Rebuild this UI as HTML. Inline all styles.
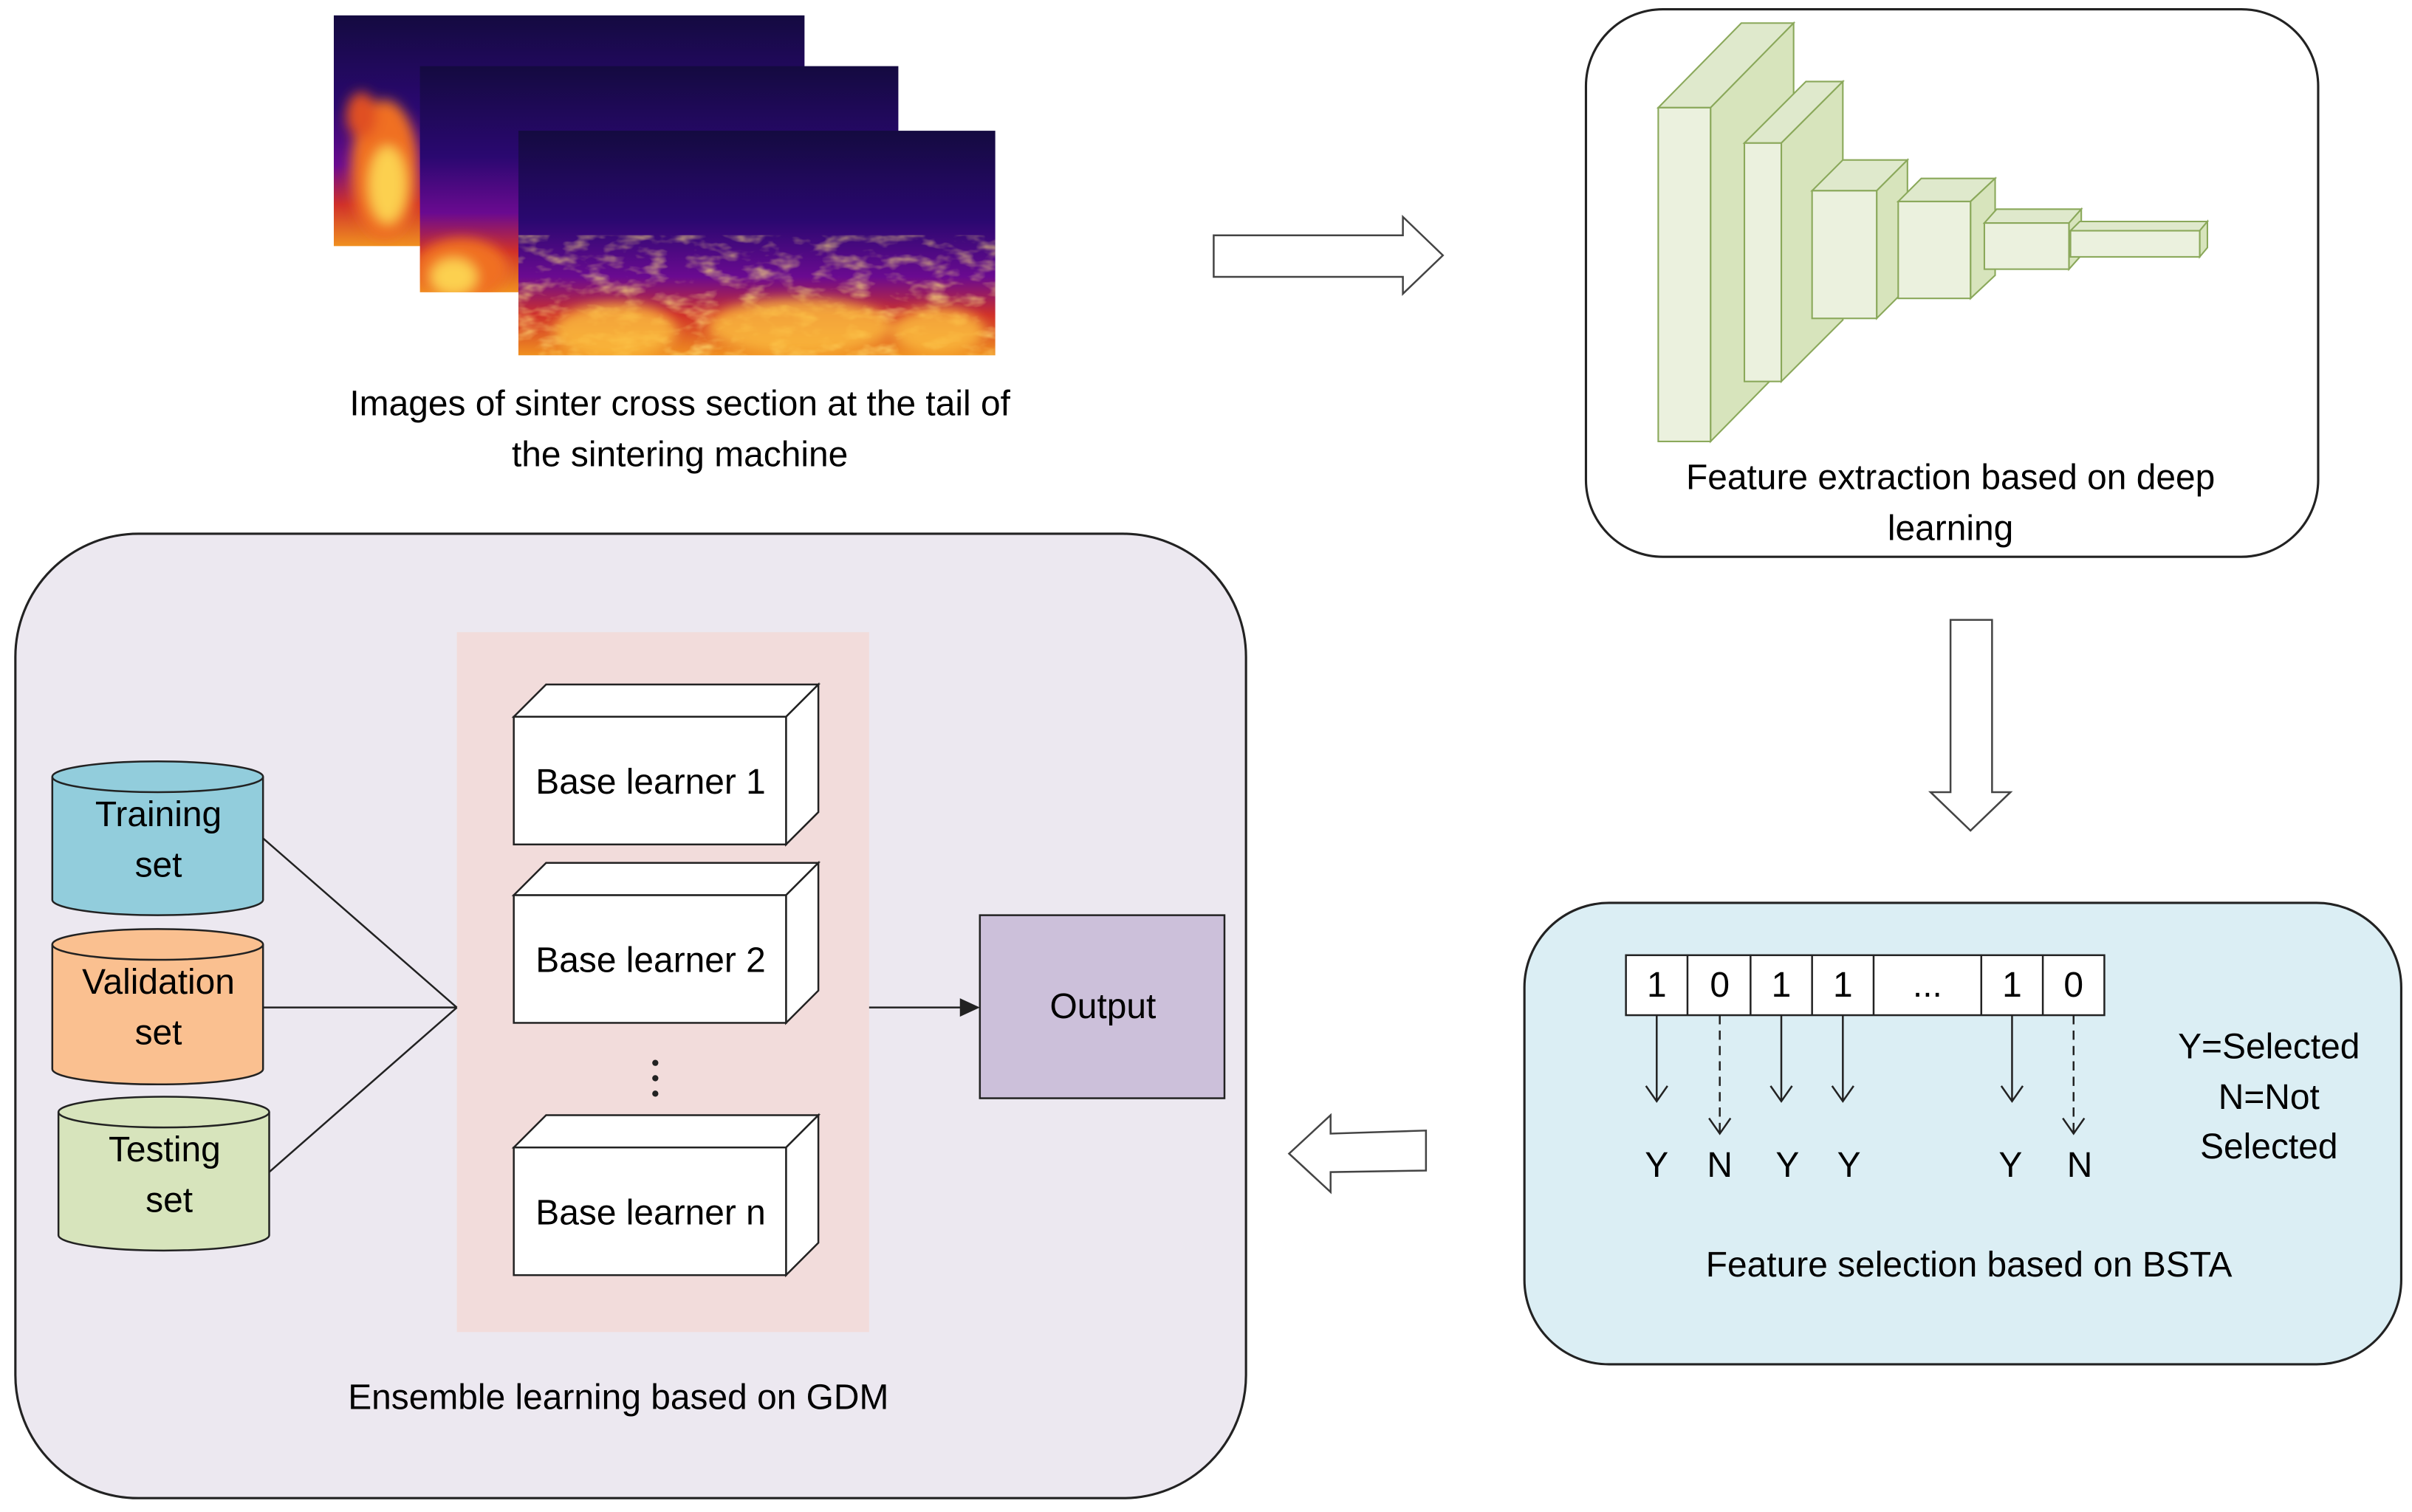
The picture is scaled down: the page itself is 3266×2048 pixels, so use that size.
<!DOCTYPE html>
<html><head><meta charset="utf-8"><style>html,body{margin:0;padding:0;background:#fff}svg{display:block}</style></head>
<body>
<svg width="3266" height="2048" viewBox="0 0 1568 983" preserveAspectRatio="none" xmlns="http://www.w3.org/2000/svg" font-family="Liberation Sans, sans-serif" font-size="22" fill="#000">
<defs>
<linearGradient id="th" x1="0" y1="0" x2="0" y2="1">
<stop offset="0" stop-color="#140a40"/><stop offset="0.4" stop-color="#2a0870"/><stop offset="0.65" stop-color="#6a0a90"/><stop offset="0.82" stop-color="#d0302a"/><stop offset="1" stop-color="#f09020"/></linearGradient>
<filter id="bl" x="-20%" y="-20%" width="140%" height="140%"><feGaussianBlur stdDeviation="4"/></filter>
<filter id="ns"><feTurbulence type="fractalNoise" baseFrequency="0.06 0.12" numOctaves="3" seed="4"/><feColorMatrix values="0 0 0 0 1  0 0 0 0 0.8  0 0 0 0 0.2  0 0 0 1.6 -0.75"/></filter>
<clipPath id="c1"><rect x="217" y="10" width="306" height="150"/></clipPath>
<clipPath id="c2"><rect x="273" y="43" width="311" height="147"/></clipPath>
<clipPath id="c3"><rect x="337" y="85" width="310" height="146"/></clipPath>
</defs>
<rect width="1568" height="983" fill="#fff"/>
<!-- thermal images -->
<rect x="217" y="10" width="306" height="150" fill="url(#th)"/>
<g clip-path="url(#c1)" filter="url(#bl)"><ellipse cx="250" cy="110" rx="22" ry="45" fill="#f07020"/><ellipse cx="252" cy="120" rx="12" ry="25" fill="#fcd050"/><ellipse cx="235" cy="75" rx="10" ry="15" fill="#e05020"/></g>
<rect x="273" y="43" width="311" height="147" fill="url(#th)"/>
<g clip-path="url(#c2)" filter="url(#bl)"><ellipse cx="300" cy="175" rx="30" ry="20" fill="#f07020"/><ellipse cx="295" cy="180" rx="15" ry="12" fill="#fcd050"/></g>
<rect x="337" y="85" width="310" height="146" fill="url(#th)"/>
<g clip-path="url(#c3)"><rect x="337" y="160" width="310" height="71" filter="url(#ns)"/>
<g filter="url(#bl)"><ellipse cx="400" cy="215" rx="40" ry="18" fill="#fcc040" opacity="0.8"/><ellipse cx="520" cy="212" rx="60" ry="18" fill="#fcc040" opacity="0.8"/><ellipse cx="610" cy="215" rx="30" ry="15" fill="#fcc040" opacity="0.8"/></g></g>
<text x="442" y="270" text-anchor="middle" font-size="23">Images of sinter cross section at the tail of</text>
<text x="442" y="303" text-anchor="middle" font-size="23">the sintering machine</text>
<!-- right arrow -->
<polygon points="789,153 912,153 912,141 938,166 912,191 912,180 789,180" fill="#fff" stroke="#444" stroke-width="1.2"/>
<!-- top right box -->
<rect x="1031" y="6" width="476" height="356" rx="50" fill="#fff" stroke="#222" stroke-width="1.5"/>
<g stroke="#8aa85a" stroke-width="1" >
<polygon points="1078,70 1132,15 1166,15 1112,70" fill="#dfe9cc"/><polygon points="1112,70 1166,15 1166,232 1112,287" fill="#d7e4bc"/><rect x="1078" y="70" width="34" height="217" fill="#ebf1de"/>
<polygon points="1134,93 1174,53 1198,53 1158,93" fill="#dfe9cc"/><polygon points="1158,93 1198,53 1198,208 1158,248" fill="#d7e4bc"/><rect x="1134" y="93" width="24" height="155" fill="#ebf1de"/>
<polygon points="1178,124 1198,104 1240,104 1220,124" fill="#dfe9cc"/><polygon points="1220,124 1240,104 1240,187 1220,207" fill="#d7e4bc"/><rect x="1178" y="124" width="42" height="83" fill="#ebf1de"/>
<polygon points="1234,131 1249,116 1297,116 1281,131" fill="#dfe9cc"/><polygon points="1281,131 1297,116 1297,179 1281,194" fill="#d7e4bc"/><rect x="1234" y="131" width="47" height="63" fill="#ebf1de"/>
<polygon points="1290,145 1298,136 1353,136 1345,145" fill="#dfe9cc"/><polygon points="1345,145 1353,136 1353,166 1345,175" fill="#d7e4bc"/><rect x="1290" y="145" width="55" height="30" fill="#ebf1de"/>
<polygon points="1346,150 1352,144 1435,144 1430,150" fill="#dfe9cc"/><polygon points="1430,150 1435,144 1435,161 1430,167" fill="#d7e4bc"/><rect x="1346" y="150" width="84" height="17" fill="#ebf1de"/>
</g>
<text x="1268" y="318" text-anchor="middle" font-size="23">Feature  extraction based on deep</text>
<text x="1268" y="351" text-anchor="middle" font-size="23">learning</text>
<!-- down arrow -->
<polygon points="1268,403 1295,403 1295,515 1307,515 1281,540 1255,515 1268,515" fill="#fff" stroke="#444" stroke-width="1.2"/>
<!-- BSTA box -->
<rect x="991" y="587" width="570" height="300" rx="55" fill="#dbeef4" stroke="#222" stroke-width="1.5"/>
<g stroke="#222" stroke-width="1.2" fill="#fff">
<rect x="1057" y="621" width="311" height="39"/>
<line x1="1097" y1="621" x2="1097" y2="660"/><line x1="1138" y1="621" x2="1138" y2="660"/><line x1="1178" y1="621" x2="1178" y2="660"/><line x1="1218" y1="621" x2="1218" y2="660"/><line x1="1288" y1="621" x2="1288" y2="660"/><line x1="1328" y1="621" x2="1328" y2="660"/>
</g>
<g font-size="23" text-anchor="middle">
<text x="1077" y="648">1</text><text x="1118" y="648">0</text><text x="1158" y="648">1</text><text x="1198" y="648">1</text><text x="1253" y="648">...</text><text x="1308" y="648">1</text><text x="1348" y="648">0</text>
<text x="1077" y="765">Y</text><text x="1118" y="765">N</text><text x="1162" y="765">Y</text><text x="1202" y="765">Y</text><text x="1307" y="765">Y</text><text x="1352" y="765">N</text>
<text x="1475" y="688">Y=Selected</text><text x="1475" y="721">N=Not</text><text x="1475" y="753">Selected</text>
<text x="1280" y="830">Feature selection based on BSTA</text>
</g>
<g stroke="#222" stroke-width="1.2" fill="none">
<path d="M1077,660 V716 M1070,706 L1077,716 L1084,706"/>
<path d="M1118,660 V736" stroke-dasharray="6,4"/><path d="M1111,727 L1118,737 L1125,727"/>
<path d="M1158,660 V716 M1151,706 L1158,716 L1165,706"/>
<path d="M1198,660 V716 M1191,706 L1198,716 L1205,706"/>
<path d="M1308,660 V716 M1301,706 L1308,716 L1315,706"/>
<path d="M1348,660 V736" stroke-dasharray="6,4"/><path d="M1341,727 L1348,737 L1355,727"/>
</g>
<!-- left arrow -->
<polygon points="927,735 865,737 865,725 838,750 865,775 865,762 927,761" fill="#fff" stroke="#444" stroke-width="1.2"/>
<!-- ensemble box -->
<rect x="10" y="347" width="800" height="627" rx="80" fill="#ece8f0" stroke="#222" stroke-width="1.5"/>
<rect x="297" y="411" width="268" height="455" fill="#f2dcdb"/>
<g stroke="#222" stroke-width="1.2">
<polygon points="334,466 355,445 532,445 511,466" fill="#fff"/><polygon points="511,466 532,445 532,528 511,549" fill="#fff"/><rect x="334" y="466" width="177" height="83" fill="#fff"/>
<polygon points="334,582 355,561 532,561 511,582" fill="#fff"/><polygon points="511,582 532,561 532,644 511,665" fill="#fff"/><rect x="334" y="582" width="177" height="83" fill="#fff"/>
<polygon points="334,746 355,725 532,725 511,746" fill="#fff"/><polygon points="511,746 532,725 532,808 511,829" fill="#fff"/><rect x="334" y="746" width="177" height="83" fill="#fff"/>
</g>
<g font-size="23" text-anchor="middle">
<text x="423" y="516">Base learner 1</text><text x="423" y="632">Base learner 2</text><text x="423" y="796">Base learner n</text>
</g>
<circle cx="426" cy="691" r="2" fill="#222"/><circle cx="426" cy="701" r="2" fill="#222"/><circle cx="426" cy="711" r="2" fill="#222"/>
<!-- cylinders -->
<g stroke="#222" stroke-width="1.2">
<path d="M34,505 V585 A68.5,10 0 0 0 171,585 V505" fill="#92cddc"/><ellipse cx="102.5" cy="505" rx="68.5" ry="10" fill="#92cddc"/>
<path d="M34,614 V695 A68.5,10 0 0 0 171,695 V614" fill="#fac090"/><ellipse cx="102.5" cy="614" rx="68.5" ry="10" fill="#fac090"/>
<path d="M38,723 V803 A68.5,10 0 0 0 175,803 V723" fill="#d7e4bc"/><ellipse cx="106.5" cy="723" rx="68.5" ry="10" fill="#d7e4bc"/>
<path d="M171,545 L297,655 M171,655 L297,655 M175,762 L297,655" fill="none"/>
<path d="M565,655 L630,655" fill="none"/>
</g>
<polygon points="637,655 624,649 624,661" fill="#222"/>
<g font-size="23" text-anchor="middle">
<text x="103" y="537">Training</text><text x="103" y="570">set</text>
<text x="103" y="646">Validation</text><text x="103" y="679">set</text>
<text x="107" y="755">Testing</text><text x="110" y="788">set</text>
</g>
<rect x="637" y="595" width="159" height="119" fill="#ccc0da" stroke="#222" stroke-width="1.2"/>
<text x="717" y="662" text-anchor="middle" font-size="23">Output</text>
<text x="402" y="916" text-anchor="middle" font-size="23">Ensemble learning based on GDM</text>
</svg>
</body></html>
